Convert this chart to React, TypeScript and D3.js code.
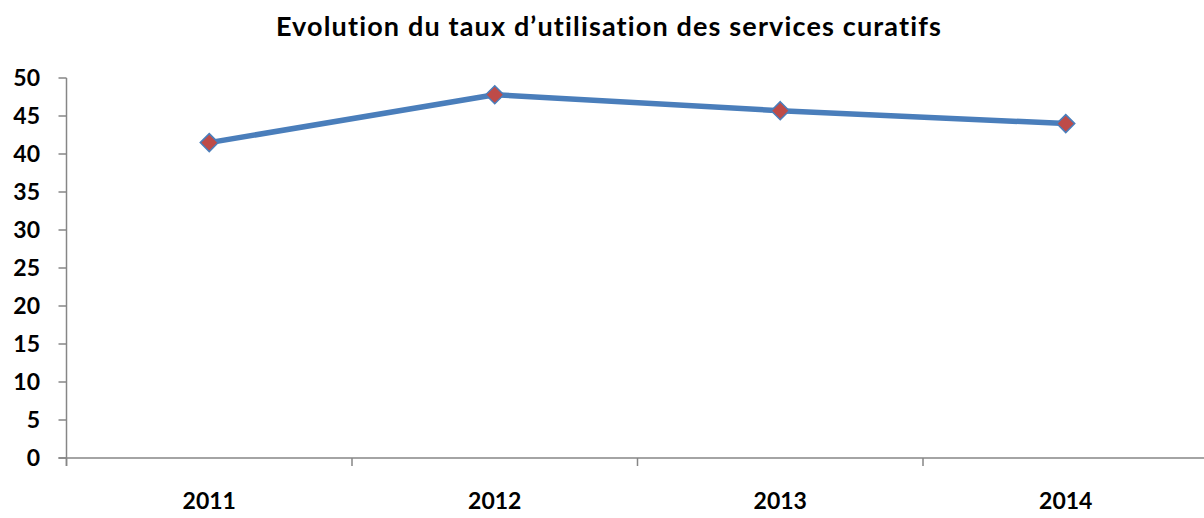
import React, { useEffect, useRef } from "react";
import * as d3 from "d3";

const years = ["2011", "2012", "2013", "2014"];
const values = [41.5, 47.8, 45.7, 44.0];
const yTicks = [0, 5, 10, 15, 20, 25, 30, 35, 40, 45, 50];
const title = "Evolution du taux d\u2019utilisation des services curatifs";

const W = 1204;
const H = 518;
const FONT = "Lato, 'Open Sans', 'Liberation Sans', sans-serif";

export default function App() {
  const ref = useRef<SVGSVGElement | null>(null);

  useEffect(() => {
    const svg = d3.select(ref.current);
    svg.selectAll("*").remove();

    const left = 66.5;
    const right = 1208.5;
    const top = 78;
    const bottom = 458;

    const x = d3.scaleBand<string>().domain(years).range([left, right]).paddingInner(0).paddingOuter(0);
    const y = d3.scaleLinear().domain([0, 50]).range([bottom, top]);

    svg.append("rect").attr("width", W).attr("height", H).attr("fill", "#ffffff");

    svg
      .append("text")
      .attr("x", 609)
      .attr("y", 36)
      .attr("text-anchor", "middle")
      .attr("font-family", FONT)
      .attr("font-weight", "bold")
      .attr("font-size", 27)
      .attr("letter-spacing", 1.15)
      .attr("fill", "#000")
      .text(title);

    const axisColor = "#868686";

    // Y axis
    const yAxis = svg.append("g");
    yAxis
      .append("line")
      .attr("x1", left)
      .attr("x2", left)
      .attr("y1", y(50))
      .attr("y2", bottom + 8)
      .attr("stroke", axisColor)
      .attr("stroke-width", 1.5);
    yTicks.forEach((t) => {
      const yy = y(t);
      yAxis
        .append("line")
        .attr("x1", left - 8)
        .attr("x2", left)
        .attr("y1", yy)
        .attr("y2", yy)
        .attr("stroke", axisColor)
        .attr("stroke-width", 1.5);
      yAxis
        .append("text")
        .attr("x", 40)
        .attr("y", yy)
        .attr("dy", "0.36em")
        .attr("text-anchor", "end")
        .attr("font-family", FONT)
        .attr("font-weight", "bold")
        .attr("font-size", 23)
        .attr("fill", "#000")
        .text(String(t));
    });

    // X axis
    const xAxis = svg.append("g");
    xAxis
      .append("line")
      .attr("x1", left - 8)
      .attr("x2", right)
      .attr("y1", bottom)
      .attr("y2", bottom)
      .attr("stroke", axisColor)
      .attr("stroke-width", 1.5);
    const bounds = years.map((yr) => x(yr) as number).concat([right]);
    bounds.forEach((bx) => {
      xAxis
        .append("line")
        .attr("x1", bx)
        .attr("x2", bx)
        .attr("y1", bottom)
        .attr("y2", bottom + 8)
        .attr("stroke", axisColor)
        .attr("stroke-width", 1.5);
    });
    years.forEach((yr) => {
      xAxis
        .append("text")
        .attr("x", (x(yr) as number) + x.bandwidth() / 2)
        .attr("y", 509)
        .attr("text-anchor", "middle")
        .attr("font-family", FONT)
        .attr("font-weight", "bold")
        .attr("font-size", 23)
        .attr("fill", "#000")
        .text(yr);
    });

    const cx = (i: number) => (x(years[i]) as number) + x.bandwidth() / 2;

    const line = d3
      .line<number>()
      .x((_, i) => cx(i))
      .y((d) => y(d));

    svg
      .append("path")
      .datum(values)
      .attr("d", line)
      .attr("fill", "none")
      .attr("stroke", "#4a7ebb")
      .attr("stroke-width", 5.5)
      .attr("stroke-linejoin", "round");

    const s = 9;
    svg
      .selectAll("path.marker")
      .data(values)
      .enter()
      .append("path")
      .attr("class", "marker")
      .attr("d", (d, i) => {
        const px = cx(i);
        const py = y(d);
        return `M${px},${py - s}L${px + s},${py}L${px},${py + s}L${px - s},${py}Z`;
      })
      .attr("fill", "#be4b48")
      .attr("stroke", "#4a7ebb")
      .attr("stroke-width", 1.5);
  }, []);

  return (
    <svg
      ref={ref}
      width={W}
      height={H}
      style={{ position: "absolute", left: 0, top: 0, display: "block" }}
    />
  );
}
